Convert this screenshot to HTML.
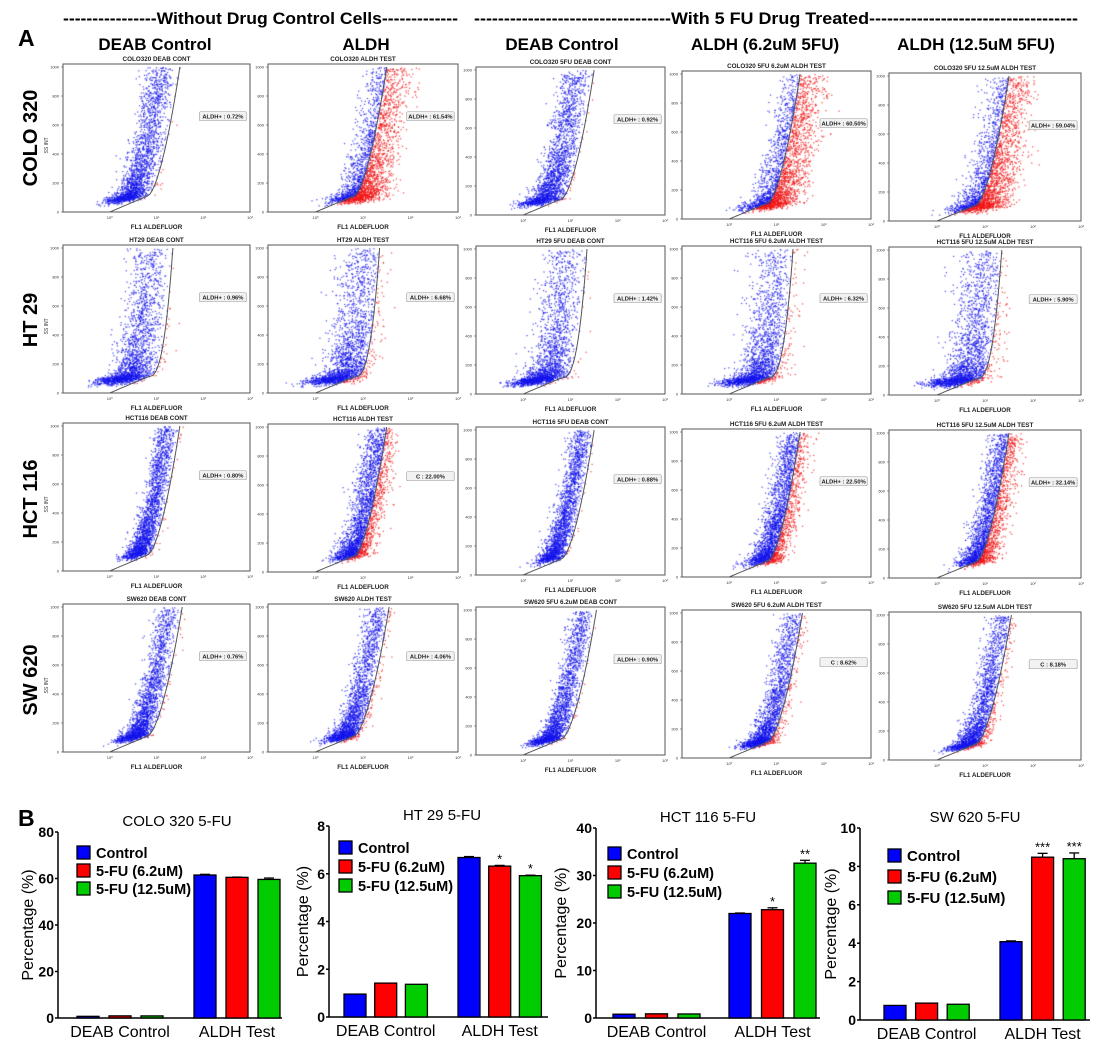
<!DOCTYPE html>
<html><head><meta charset="utf-8"><title>ALDH flow cytometry and 5-FU bar charts</title>
<style>
html,body{margin:0;padding:0;background:#fff;}
#wrap{position:relative;width:1100px;height:1042px;overflow:hidden;font-family:"Liberation Sans",sans-serif;}
#dots{position:absolute;left:0;top:0;}
#fig{position:absolute;left:0;top:0;}
</style></head>
<body>
<div id="wrap">
<canvas id="dots" width="1100" height="1042"></canvas>
<svg id="fig" width="1100" height="1042" xmlns="http://www.w3.org/2000/svg">
 <text x="18" y="46" font-size="23" font-weight="bold">A</text>
 <text x="18" y="826" font-size="23" font-weight="bold">B</text>
 <text x="63" y="24" font-size="17" font-weight="bold" textLength="395" lengthAdjust="spacingAndGlyphs">----------------Without Drug Control Cells-------------</text>
 <text x="474" y="24" font-size="17" font-weight="bold" textLength="604" lengthAdjust="spacingAndGlyphs">---------------------------------With 5 FU Drug Treated-----------------------------------</text>
 <g font-size="17" font-weight="bold" text-anchor="middle">
  <text x="155" y="50">DEAB Control</text>
  <text x="366" y="50">ALDH</text>
  <text x="562" y="50">DEAB Control</text>
  <text x="765" y="50">ALDH (6.2uM 5FU)</text>
  <text x="976" y="50">ALDH (12.5uM 5FU)</text>
 </g>
 <g font-size="20" font-weight="bold" text-anchor="middle">
  <text transform="translate(37,138) rotate(-90)">COLO 320</text>
  <text transform="translate(37,320) rotate(-90)">HT 29</text>
  <text transform="translate(37,499) rotate(-90)">HCT 116</text>
  <text transform="translate(37,680) rotate(-90)">SW 620</text>
 </g>
 <g id="plots"></g>
 <g id="bars"></g>
</svg>
</div>
<script>
// ---------- Bar chart data (panel B) ----------
const groupLabels = ['DEAB Control', 'ALDH Test'];
const seriesNames = ['Control', '5-FU (6.2uM)', '5-FU (12.5uM)'];
const coloDeab = [0.72, 0.92, 0.90];
const coloAldh = [61.5, 60.5, 59.6];
const coloErr = [0.3, 0.1, 0.6];
const coloTicks = [0, 20, 40, 60, 80];
const ht29Deab = [0.96, 1.42, 1.37];
const ht29Aldh = [6.68, 6.32, 5.92];
const ht29Err = [0.04, 0.03, 0.02];
const ht29Ticks = [0, 2, 4, 6, 8];
const hctDeab = [0.80, 0.88, 0.85];
const hctAldh = [22.0, 22.8, 32.6];
const hctErr = [0.1, 0.4, 0.6];
const hctTicks = [0, 10, 20, 30, 40];
const swDeab = [0.76, 0.88, 0.82];
const swAldh = [4.08, 8.48, 8.40];
const swErr = [0.04, 0.2, 0.3];
const swTicks = [0, 2, 4, 6, 8, 10];
const ht29Stars = ['', '*', '*'];
const hctStars = ['', '*', '**'];
const swStars = ['', '***', '***'];
const noStars = ['', '', ''];

// ---------- Flow cytometry gate percentages (panel A) ----------
const rowNames = ['COLO320', 'HT29', 'HCT116', 'SW620'];
const plotTitles = [
 ['COLO320 DEAB CONT','COLO320 ALDH TEST','COLO320 5FU DEAB CONT','COLO320 5FU 6.2uM ALDH TEST','COLO320 5FU 12.5uM ALDH TEST'],
 ['HT29 DEAB CONT','HT29 ALDH TEST','HT29 5FU DEAB CONT','HCT116 5FU 6.2uM ALDH TEST','HCT116 5FU 12.5uM ALDH TEST'],
 ['HCT116 DEAB CONT','HCT116 ALDH TEST','HCT116 5FU DEAB CONT','HCT116 5FU 6.2uM ALDH TEST','HCT116 5FU 12.5uM ALDH TEST'],
 ['SW620 DEAB CONT','SW620 ALDH TEST','SW620 5FU 6.2uM DEAB CONT','SW620 5FU 6.2uM ALDH TEST','SW620 5FU 12.5uM ALDH TEST']];
const gatePrefix = [
 ['ALDH+','ALDH+','ALDH+','ALDH+','ALDH+'],
 ['ALDH+','ALDH+','ALDH+','ALDH+','ALDH+'],
 ['ALDH+','C','ALDH+','ALDH+','ALDH+'],
 ['ALDH+','ALDH+','ALDH+','C','C']];
const gatePct = [
 [0.72, 61.54, 0.92, 60.50, 59.04],
 [0.96, 6.68, 1.42, 6.32, 5.90],
 [0.80, 22.00, 0.88, 22.50, 32.14],
 [0.76, 4.06, 0.90, 8.62, 8.18]];

const NS = 'http://www.w3.org/2000/svg';
function mk(tag, attrs, parent){
 const e = document.createElementNS(NS, tag);
 for (const k in attrs) e.setAttribute(k, attrs[k]);
 parent.appendChild(e); return e;
}

// ---------- Panel A ----------
const colLeft = [63, 268, 476, 682, 889];
const colWidth = [187, 190, 189, 189, 192];
const rowTop = [[64,64,67,71,73],[245,245,246,246,247],[423,424,427,429,430],[604,604,607,610,612]];
const FH = 148;
const rowShape = [
 {ymin:90, pw:2.3, sd:0.17, gk:0.80, gt:1.50, ge:0.6},
 {ymin:90, pw:3.2, sd:0.22, gk:0.80, gt:1.35, ge:0.35},
 {ymin:110, pw:1.9, sd:0.12, gk:0.80, gt:1.50, ge:0.6},
 {ymin:100, pw:2.5, sd:0.13, gk:0.80, gt:1.55, ge:0.6}];

let seed = 12345;
function rnd(){ seed |= 0; seed = seed + 0x6D2B79F5 | 0; let t = Math.imul(seed ^ seed >>> 15, 1 | seed); t = t + Math.imul(t ^ t >>> 7, 61 | t) ^ t; return ((t ^ t >>> 14) >>> 0) / 4294967296; }
function gauss(){ let u = rnd()||1e-9, v = rnd(); return Math.sqrt(-2*Math.log(u))*Math.cos(2*Math.PI*v); }
function probit(p){
 const a=[-39.6968,220.9461,-275.9285,138.3578,-30.6648,2.5066],b=[-54.4761,161.5858,-155.6990,66.8013,-13.2806],c=[-0.007785,-0.32240,-2.40076,-2.54973,4.37466,2.93816],d=[0.007785,0.32247,2.44513,3.75440];
 if (p<0.02425){const q=Math.sqrt(-2*Math.log(p));return (((((c[0]*q+c[1])*q+c[2])*q+c[3])*q+c[4])*q+c[5])/((((d[0]*q+d[1])*q+d[2])*q+d[3])*q+1);}
 if (p>1-0.02425){const q=Math.sqrt(-2*Math.log(1-p));return -(((((c[0]*q+c[1])*q+c[2])*q+c[3])*q+c[4])*q+c[5])/((((d[0]*q+d[1])*q+d[2])*q+d[3])*q+1);}
 const q=p-0.5,r=q*q;return (((((a[0]*r+a[1])*r+a[2])*r+a[3])*r+a[4])*r+a[5])*q/(((((b[0]*r+b[1])*r+b[2])*r+b[3])*r+b[4])*r+1);
}

const ctx = document.getElementById('dots').getContext('2d');
const plotsG = document.getElementById('plots');
for (let r=0;r<4;r++){
 for (let c=0;c<5;c++){
  const x0 = colLeft[c], w = colWidth[c], y0 = rowTop[r][c];
  const sh = rowShape[r];
  const xs = lg => x0 + (lg + 1) / 4 * w;
  const ys = v => y0 + FH - v / 1000 * (FH - 3);
  const yk = 110;
  const gate = v => v < yk ? sh.gk * v / yk : sh.gk + (sh.gt - sh.gk) * Math.pow((v - yk) / (1000 - yk), sh.ge);
  const g = mk('g', {}, plotsG);
  
  
  const pct = gatePct[r][c] / 100;
  const isTest = (c % 2 === 1) || c === 4 || (c===3);
  const sd = isTest && pct > 0.15 ? sh.sd * 1.35 : sh.sd * (isTest ? 1.1 : 1);
  const off = sd * probit(1 - pct);
  const n = isTest && pct > 0.15 ? 2600 : 2100;
  for (let i=0;i<n;i++){
   const v = sh.ymin + (1000 - sh.ymin) * Math.pow(rnd(), sh.pw) + gauss()*18;
   if (v < 40 || v > 1000) continue;
   let z = gauss();
   const lg = gate(v) - off + z * sd * (z > 0 && pct > 0.15 ? 1.1 : 1);
   if (lg < -0.9 || lg > 2.95) continue;
   ctx.fillStyle = lg > gate(v) ? 'rgba(240,20,20,0.8)' : 'rgba(20,20,235,0.8)';
   ctx.fillRect(xs(lg), ys(v), 1.2, 1.2);
  }
  const fr = mk('rect', {x:x0, y:y0, width:w, height:FH, fill:'none', stroke:'#555', 'stroke-width':1}, g);
  
  
  let pts = [];
  for (let v=0; v<=1000; v+=10) pts.push(xs(gate(v)).toFixed(1) + ',' + ys(v).toFixed(1));
  const gl = mk('polyline', {points: pts.join(' '), fill:'none', stroke:'#555', 'stroke-width':1}, g);
  
  
  const t = mk('text', {x: x0 + w/2, y: y0 - 3, 'font-size': 6.3, 'font-weight':'bold', 'text-anchor':'middle', fill:'#222'}, g);
  t.textContent = plotTitles[r][c];
  
  
  const xl = mk('text', {x: x0 + w/2, y: y0 + FH + 17, 'font-size': 6.3, 'font-weight':'bold', 'text-anchor':'middle', fill:'#222'}, g);
  xl.textContent = 'FL1 ALDEFLUOR';
  
  
  for (let v=0; v<=1000; v+=200){
   const tl = mk('text', {x: x0 - 4, y: ys(v) + 1.5, 'font-size': 4, 'text-anchor':'end', fill:'#333'}, g);
   tl.textContent = v;
   
   
   mk('line', {x1:x0-2, x2:x0, y1:ys(v), y2:ys(v), stroke:'#555', 'stroke-width':0.6}, g);
  }
  for (let k=0;k<=3;k++){
   const tl = mk('text', {x: xs(k), y: y0 + FH + 7, 'font-size': 4, 'text-anchor':'middle', fill:'#333'}, g);
   tl.textContent = '10' + ['⁰','¹','²','³'][k];
   
   
  }
  if (c === 0){
   const yl = mk('text', {transform:'translate(' + (x0 - 15) + ',' + (y0 + FH*0.55) + ') rotate(-90)', 'font-size': 5, 'text-anchor':'middle', fill:'#333'}, g);
   yl.textContent = 'SS INT';
   
   
  }
  const lx = x0 + w * 0.73, ly = ys(650);
  const bx = mk('rect', {x: lx, y: ly - 6, width: w * 0.25, height: 9, fill:'#f2f2f2', stroke:'#999', 'stroke-width':0.6, rx:1}, g);
  
  
  const lt = mk('text', {x: lx + w*0.125, y: ly + 0.8, 'font-size': 5.8, 'font-weight':'bold', 'text-anchor':'middle', fill:'#222'}, g);
  lt.textContent = gatePrefix[r][c] + ' : ' + gatePct[r][c].toFixed(2) + '%';
  
  
 }
}

// ---------- Panel B ----------
const colors = ['#0000ff', '#ff0000', '#00cc00'];
const charts = [
 {name:'colo320', title:'COLO 320 5-FU', tx:177, deab:coloDeab, aldh:coloAldh, err:coloErr, ticks:coloTicks, stars:noStars, ax:58, x1:282, yTop:832, yBot:1018, g0:77, g1:194, pitch:32, lx:77, ly:846, ls:18, fs:14.5, ylx:33},
 {name:'ht29', title:'HT 29 5-FU', tx:442, deab:ht29Deab, aldh:ht29Aldh, err:ht29Err, ticks:ht29Ticks, stars:ht29Stars, ax:329, x1:548, yTop:826, yBot:1017, g0:344, g1:458, pitch:30.7, lx:339, ly:841, ls:19, fs:14.5, ylx:308},
 {name:'hct116', title:'HCT 116 5-FU', tx:708, deab:hctDeab, aldh:hctAldh, err:hctErr, ticks:hctTicks, stars:hctStars, ax:596, x1:820, yTop:828, yBot:1018, g0:613, g1:729, pitch:32.5, lx:608, ly:847, ls:19, fs:14.5, ylx:566},
 {name:'sw620', title:'SW 620 5-FU', tx:975, deab:swDeab, aldh:swAldh, err:swErr, ticks:swTicks, stars:swStars, ax:860, x1:1090, yTop:828, yBot:1020, g0:884, g1:1000, pitch:31.6, lx:888, ly:849, ls:21, fs:15, ylx:836}];
const barsG = document.getElementById('bars');
charts.forEach(ch => {
 const g = mk('g', {'font-family':'Liberation Sans, sans-serif'}, barsG);
 
 
 const maxV = ch.ticks[ch.ticks.length - 1];
 const ys = v => ch.yBot - v / maxV * (ch.yBot - ch.yTop);
 const bw = 22;
 const tt = mk('text', {x: ch.tx, y: ch.yTop - 6, 'font-size': 15, 'text-anchor':'middle'}, g);
 tt.textContent = ch.title;
 
 
 const yl = mk('text', {transform:'translate(' + ch.ylx + ',' + ((ch.yTop + ch.yBot)/2) + ') rotate(-90)', 'font-size': 16, 'text-anchor':'middle'}, g);
 yl.textContent = 'Percentage (%)';
 
 
 mk('line', {x1: ch.ax, x2: ch.ax, y1: ch.yTop, y2: ch.yBot, stroke:'#000', 'stroke-width':1.5}, g);
 mk('line', {x1: ch.ax, x2: ch.x1, y1: ch.yBot, y2: ch.yBot, stroke:'#000', 'stroke-width':1.5}, g);
 ch.ticks.forEach(v => {
  mk('line', {x1: ch.ax - 3, x2: ch.ax, y1: ys(v), y2: ys(v), stroke:'#000', 'stroke-width':1.5}, g);
  const tl = mk('text', {x: ch.ax - 4, y: ys(v) + 5, 'font-size': 14, 'font-weight':'bold', 'text-anchor':'end'}, g);
  tl.textContent = v;
  
  
 });
 [ch.deab, ch.aldh].forEach((vals, gi) => {
  const start = gi === 0 ? ch.g0 : ch.g1;
  vals.forEach((v, si) => {
   const x = start + si * ch.pitch;
   const b = mk('rect', {x: x, y: ys(v), width: bw, height: ch.yBot - ys(v), fill: colors[si], stroke:'#000', 'stroke-width':1.3}, g);
   
   
   if (gi === 1){
    const e = ch.err[si];
    mk('line', {x1: x + bw/2, x2: x + bw/2, y1: ys(v), y2: ys(v + e), stroke:'#000', 'stroke-width':1.3}, g);
    mk('line', {x1: x + bw/2 - 5, x2: x + bw/2 + 5, y1: ys(v + e), y2: ys(v + e), stroke:'#000', 'stroke-width':1.3}, g);
    if (ch.stars[si]){
     const st = mk('text', {x: x + bw/2, y: ys(v + e) - 2, 'font-size': 13, 'text-anchor':'middle'}, g);
     st.textContent = ch.stars[si];
     
     
    }
   }
  });
  const gl = mk('text', {x: start + ch.pitch + bw/2, y: ch.yBot + 19, 'font-size': 16, 'text-anchor':'middle'}, g);
  gl.textContent = groupLabels[gi];
  
  
 });
 seriesNames.forEach((s, si) => {
  const ly = ch.ly + si * ch.ls;
  const sw = mk('rect', {x: ch.lx, y: ly, width: 13, height: 13, fill: colors[si], stroke:'#000', 'stroke-width':1.3}, g);
  
  
  const lt = mk('text', {x: ch.lx + 19, y: ly + 12, 'font-size': ch.fs, 'font-weight':'bold'}, g);
  lt.textContent = s;
  
  
 });
});
</script>
</body></html>
